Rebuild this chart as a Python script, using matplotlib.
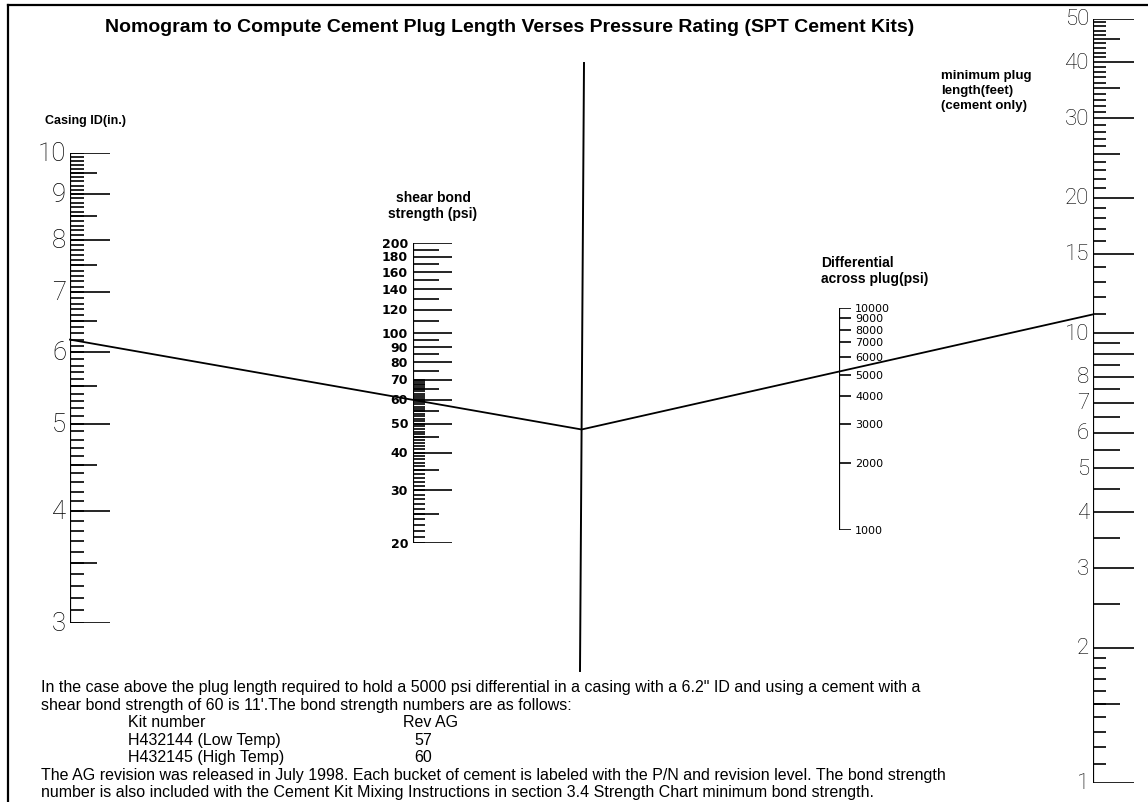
import numpy as np
import matplotlib
matplotlib.use("Agg")
import matplotlib.pyplot as plt

W, H = 1148, 803

# scale values printed on the nomogram
casing_labels = [3, 4, 5, 6, 7, 8, 9, 10]  # casing ID (in.)
shear_labels = [20, 30, 40, 50, 60, 70, 80, 90, 100, 120, 140, 160, 180, 200]  # psi
diff_labels = [1000, 2000, 3000, 4000, 5000, 6000, 7000, 8000, 9000, 10000]  # psi
plug_labels = [1, 2, 3, 4, 5, 6, 7, 8, 10, 15, 20, 30, 40, 50]  # feet

# worked example shown by the index line
ex_casing = 6.2
ex_shear = 60
ex_diff = 5000
ex_plug = 11

# kit table in the notes
kit_numbers = ["H432144 (Low Temp)", "H432145 (High Temp)"]
kit_rev_ag = [57, 60]

TEXT_FONT = "Liberation Sans"
SCALE_FONT = "Roboto"

fig = plt.figure(figsize=(W / 100, H / 100), dpi=100)
fig.patch.set_facecolor("white")

# background axes in pixel coordinates for frame, text and index line
ax0 = fig.add_axes([0, 0, 1, 1])
ax0.set_xlim(0, W)
ax0.set_ylim(H, 0)
ax0.axis("off")


def scale_axes(x_px, y_top, y_bot, vmin, vmax, width=45):
    ax = fig.add_axes([x_px / W, 1 - y_bot / H, width / W, (y_bot - y_top) / H])
    ax.set_yscale("log")
    ax.set_ylim(vmin, vmax)
    ax.set_xlim(0, width)
    ax.axis("off")
    ax.vlines(0, vmin, vmax, color="black", lw=1.6)
    return ax


def draw_ticks(ax, values, length, lw=1.2):
    ax.hlines(values, 0, length, color="black", lw=lw)


# --- casing ID scale (left) ---
ax_c = scale_axes(70, 154, 624, 3, 10)
c_short = np.round(np.arange(3.0, 10.01, 0.1), 1)
c_med = np.arange(3.5, 10, 1.0)
draw_ticks(ax_c, c_short, 14)
draw_ticks(ax_c, c_med, 27)
draw_ticks(ax_c, casing_labels, 40)
for v in casing_labels:
    ax_c.text(-4, v, str(v), ha="right", va="center", fontsize=18.5,
              family=SCALE_FONT, fontweight="light")

# --- shear bond strength scale ---
ax_s = scale_axes(413, 244, 544, 20, 200)
s_short = np.arange(20, 71, 1)
s_med = [25, 35, 45, 55, 65, 75, 85, 95, 110, 130, 150, 170, 190]
draw_ticks(ax_s, s_short, 12)
draw_ticks(ax_s, s_med, 26)
draw_ticks(ax_s, shear_labels, 39)
for v in shear_labels:
    ax_s.text(-5, v, str(v), ha="right", va="center", fontsize=9,
              family="DejaVu Sans", fontweight="bold")

# --- differential across plug scale ---
ax_d = scale_axes(839, 309, 531, 1000, 10000)
draw_ticks(ax_d, diff_labels, 12)
for v in diff_labels:
    ax_d.text(16, v, str(v), ha="left", va="center", fontsize=8,
              family="DejaVu Sans")

# --- minimum plug length scale (right) ---
ax_p = scale_axes(1093, 19.5, 784, 1, 50)
p_short = list(np.round(np.arange(1.1, 2.0, 0.1), 1)) + \
    [v for v in range(11, 50) if v not in (15, 20, 25, 30, 35, 40, 45)]
p_med = [1.5] + list(np.arange(2.5, 10, 1.0)) + [25, 35, 45]
p_long = [1, 2, 3, 4, 5, 6, 7, 8, 9, 10, 15, 20, 30, 40, 50]
draw_ticks(ax_p, p_short, 13)
draw_ticks(ax_p, p_med, 27)
draw_ticks(ax_p, p_long, 41)
for v in plug_labels:
    ax_p.text(-4, v, str(v), ha="right", va="center", fontsize=16,
              family=SCALE_FONT, fontweight="light")


# --- index line through the worked example ---
def to_px(ax, v):
    return ax0.transData.inverted().transform(ax.transData.transform((0, v)))


pc = to_px(ax_c, ex_casing)
ps = to_px(ax_s, ex_shear)
pd_ = to_px(ax_d, ex_diff)
pp = to_px(ax_p, ex_plug)

# turning line (unscaled), slightly off vertical as in the original
turn_top = np.array([584.0, 64.0])
turn_bot = np.array([580.0, 672.0])
ax0.plot([turn_top[0], turn_bot[0]], [turn_top[1], turn_bot[1]], color="black", lw=1.4)

# intersection of casing->shear line with the turning line
d1 = ps - pc
d2 = turn_bot - turn_top
t = np.cross(turn_top - pc, d2) / np.cross(d1, d2)
pivot = pc + t * d1
ax0.plot([pc[0], pivot[0], pp[0]], [pc[1], pivot[1], pp[1]], color="black", lw=1.3)

# --- frame ---
ax0.plot([8, 8], [H, 6], color="black", lw=1.6)
ax0.plot([8, W], [6, 6], color="black", lw=1.6)

# --- titles and scale names ---
ax0.text(510, 27, "Nomogram to Compute Cement Plug Length Verses Pressure Rating (SPT Cement Kits)",
         ha="center", va="center", fontsize=14, fontweight="bold", family=TEXT_FONT)
ax0.text(45, 121, "Casing ID(in.)", ha="left", va="center", fontsize=9,
         fontweight="bold", family=TEXT_FONT)
ax0.text(433, 206, "shear bond\nstrength (psi)", ha="center", va="center", fontsize=10,
         fontweight="bold", family=TEXT_FONT, linespacing=1.1)
ax0.text(821, 271, "Differential\nacross plug(psi)", ha="left", va="center", fontsize=10,
         fontweight="bold", family=TEXT_FONT, linespacing=1.15)
ax0.text(941, 91, "minimum plug\nlength(feet)\n(cement only)", ha="left", va="center",
         fontsize=9.5, fontweight="bold", family=TEXT_FONT, linespacing=1.3)

# --- notes at the bottom ---
note_kw = dict(ha="left", va="center", fontsize=11.5, family=TEXT_FONT)
row_y = [688, 705.5, 723, 740.5, 758, 775.5, 793]
ax0.text(41, row_y[0], "In the case above the plug length required to hold a 5000 psi differential "
         "in a casing with a 6.2\" ID and using a cement with a", **note_kw)
ax0.text(41, row_y[1], "shear bond strength of 60 is 11'.The bond strength numbers are as follows:",
         **note_kw)
ax0.text(128, row_y[2], "Kit number", **note_kw)
ax0.text(403, row_y[2], "Rev AG", **note_kw)
for i, (kit, rev) in enumerate(zip(kit_numbers, kit_rev_ag)):
    ax0.text(128, row_y[3 + i], kit, **note_kw)
    ax0.text(414, row_y[3 + i], str(rev), **note_kw)
ax0.text(41, row_y[5], "The AG revision was released in July 1998. Each bucket of cement is labeled "
         "with the P/N and revision level. The bond strength", **note_kw)
ax0.text(41, row_y[6], "number is also included with the Cement Kit Mixing Instructions in section "
         "3.4 Strength Chart minimum bond strength.", **note_kw)

fig.savefig("out.png", dpi=100, facecolor="white")
